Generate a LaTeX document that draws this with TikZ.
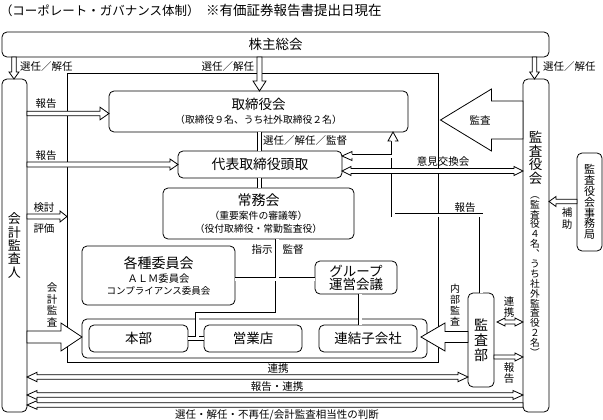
\documentclass[tikz,border=0pt]{standalone}
\usepackage{fontspec}
\setmainfont{Noto Sans CJK JP}
\usetikzlibrary{calc}
\newcommand\fs[2]{\fontsize{#1}{#2}\selectfont}
\tikzset{
  every node/.style={inner sep=0pt, outer sep=0pt},
  ln/.style={line width=0.8pt},
  box/.style={draw, ln, rounded corners=5pt, fill=white, align=center},
  lbl/.style={font=\fs{10.5}{11}, align=center},
  vlbl/.style={font=\fs{10.5}{11.5}, align=center},
  dbl/.style={ln, double=white, double distance=3pt},
  hol/.style={draw, ln, fill=white, line join=miter},
  harrow/.style n args={3}{to path={
      ($(\tikztotarget)!#3!(\tikztostart)$) coordinate (hb)
      ($(\tikztostart)!#1!90:(\tikztotarget)$) -- ($(hb)!#1!90:(\tikztotarget)$)
      -- ($(hb)!#2!90:(\tikztotarget)$) -- (\tikztotarget)
      -- ($(hb)!#2!-90:(\tikztotarget)$) -- ($(hb)!#1!-90:(\tikztotarget)$)
      -- ($(\tikztostart)!#1!-90:(\tikztotarget)$) -- cycle}},
  darrow/.style n args={3}{to path={
      ($(\tikztotarget)!#3!(\tikztostart)$) coordinate (hb)
      ($(\tikztostart)!#3!(\tikztotarget)$) coordinate (ha)
      (\tikztostart) -- ($(ha)!#2!90:(\tikztotarget)$) -- ($(ha)!#1!90:(\tikztotarget)$)
      -- ($(hb)!#1!90:(\tikztotarget)$) -- ($(hb)!#2!90:(\tikztotarget)$) -- (\tikztotarget)
      -- ($(hb)!#2!-90:(\tikztotarget)$) -- ($(hb)!#1!-90:(\tikztotarget)$)
      -- ($(ha)!#1!-90:(\tikztotarget)$) -- ($(ha)!#2!-90:(\tikztotarget)$) -- cycle}},
  ahead/.style n args={2}{to path={
      ($(\tikztostart)!#1!90:(\tikztotarget)$) -- ($(\tikztostart)!#2!90:(\tikztotarget)$)
      -- (\tikztotarget) -- ($(\tikztostart)!#2!-90:(\tikztotarget)$)
      -- ($(\tikztostart)!#1!-90:(\tikztotarget)$)}},
}
\begin{document}
\begin{tikzpicture}[x=1pt, y=-1pt]
\useasboundingbox (0,0) rectangle (603,420);
\fill[white] (0,0) rectangle (603,420);

% title
\node[anchor=west, font=\fs{12.5}{13}] (t1) at (0,10.5) {（コーポレート・ガバナンス体制）};
\node[anchor=west, font=\fs{13.5}{14}] (t2) at (206,10.5) {※有価証券報告書提出日現在};

% frame
\node[draw, ln, minimum width=371pt, minimum height=289pt] (waku) at (252.5,217.5) {};

% boxes
\node[box, minimum width=547pt, minimum height=25pt, font=\fs{13.5}{14}] (kabu) at (275.5,44.5) {株主総会};
\node[box, minimum width=25pt, minimum height=333pt, font=\fs{13}{13.3}] (kaikei) at (14.5,245.5) {会\\計\\監\\査\\人};
\node[box, minimum width=26pt, minimum height=333pt] (kansayaku) at (536,245.5) {};
\node[font=\fs{13.5}{13.8}, align=center] (kyt) at (535.5,158) {監\\査\\役\\会};
\node[font=\fs{9.7}{9.9}, align=center] (kys) at (535,276.5) {︵\\監\\査\\役\\４\\名\\︑\\う\\ち\\社\\外\\監\\査\\役\\２\\名\\︶};
\node[box, minimum width=25pt, minimum height=98pt, font=\fs{11}{10.9}] (jimu) at (589.5,202) {監\\査\\役\\会\\事\\務\\局};
\node[box, minimum width=299pt, minimum height=41pt, font=\fs{9.8}{14}] (torishimari) at (258.5,111.5)
  {{\fs{13.5}{14}取締役会}\\（取締役９名、うち社外取締役２名）};
\node[box, minimum width=164pt, minimum height=27pt, font=\fs{13.8}{14}] (daihyo) at (260,164.5) {代表取締役頭取};
\node[box, minimum width=191pt, minimum height=51pt, font=\fs{9.8}{13}] (jomu) at (258.5,213.5)
  {{\fs{14}{14}常務会}\\[1pt]（重要案件の審議等）\\（役付取締役・常勤監査役）};
\node[box, minimum width=153pt, minimum height=59pt, font=\fs{9.5}{12}] (kakushu) at (158.5,275.5)
  {{\fs{14}{14}各種委員会}\\[2pt]{\fs{10.3}{12}ＡＬＭ委員会}\\コンプライアンス委員会};
\node[box, minimum width=82pt, minimum height=33pt, font=\fs{13.5}{13}] (group) at (356,277.5) {グループ\\運営会議};
\node[box, minimum width=345pt, minimum height=39pt] (inner) at (254.5,338.5) {};
\node[box, minimum width=99pt, minimum height=27pt, font=\fs{13.5}{14}] (honbu) at (138.5,338.5) {本部};
\node[box, minimum width=98pt, minimum height=27pt, font=\fs{13.5}{14}] (eigyo) at (253,338.5) {営業店};
\node[box, minimum width=98pt, minimum height=27pt, font=\fs{13.5}{14}] (renketsu) at (368,338.5) {連結子会社};
\node[box, minimum width=26pt, minimum height=94pt, font=\fs{14}{15}] (kansabu) at (481,340) {監\\査\\部};

% double-line connectors
\coordinate (j1) at (jomu.south -| 277,0);
\coordinate (j2) at (277,314);
\coordinate (j3) at (197,314);
\coordinate (j4) at (honbu.east -| 197,0);
\draw[dbl] (daihyo.north -| 259.5,0) -- (torishimari.south -| 259.5,0)
           (daihyo.south -| 259.5,0) -- (jomu.north -| 259.5,0)
           (j1) -- (j2) -- (j3) -- (j4)
           (honbu.east) -- (eigyo.west)
           (kakushu.east |- 0,279) -- (group.west |- 0,279)
           (group.south -| 360,0) -- (renketsu.north -| 360,0);

% audit dept report route
\coordinate (r1) at (kansabu.north |- 0,215);
\coordinate (r2) at (393,215);
\coordinate (r3) at (393,141);
\coordinate (r4) at (393,156);
\coordinate (r5) at (352,156);
\draw[dbl] (kansabu.north) -- (r1) -- (r2) -- (r3) (r4) -- (r5);
\draw[hol] (r3) to[ahead={1.9pt}{5pt}] (torishimari.south -| r3);
\draw[hol] (r5) to[ahead={1.9pt}{4.5pt}] (daihyo.east |- r5);

% hollow arrows
\coordinate (s1a) at (kabu.south -| 14,0);    \coordinate (s1b) at (kaikei.north -| 14,0);
\coordinate (s2a) at (kabu.south -| 259.5,0); \coordinate (s2b) at (torishimari.north -| 259.5,0);
\coordinate (s3a) at (kabu.south -| 534.5,0); \coordinate (s3b) at (kansayaku.north -| 534.5,0);
\draw[hol] (s1a) to[harrow={2.2pt}{5pt}{7pt}] (s1b);
\draw[hol] (s2a) to[harrow={2.5pt}{6.5pt}{10pt}] (s2b);
\draw[hol] (s3a) to[harrow={2.3pt}{4.8pt}{7pt}] (s3b);

\coordinate (h1a) at (kaikei.east |- 0,113.5); \coordinate (h1b) at (torishimari.west |- 0,113.5);
\coordinate (h2a) at (kaikei.east |- 0,164.5); \coordinate (h2b) at (daihyo.west |- 0,164.5);
\coordinate (k1a) at (kaikei.east |- 0,216.5); \coordinate (k1b) at (waku.west |- 0,216.5);
\coordinate (k2a) at (kaikei.east |- 0,337);   \coordinate (k2b) at (inner.west |- 0,337);
\draw[hol] (h1a) to[harrow={2.3pt}{6.3pt}{9pt}] (h1b);
\draw[hol] (h2a) to[harrow={2.5pt}{5.5pt}{8pt}] (h2b);
\draw[hol] (k1a) to[harrow={2.5pt}{5.5pt}{7pt}] (k1b);
\draw[hol] (k2a) to[harrow={6pt}{14pt}{21pt}] (k2b);

\coordinate (m1a) at (kansayaku.west |- 0,120); \coordinate (m1b) at ($(waku.east |- 0,120)+(2.5,0)$);
\draw[hol] (m1a) to[harrow={19pt}{31pt}{51pt}] (m1b);

\coordinate (ik1) at (daihyo.east |- 0,171); \coordinate (ik2) at (kansayaku.west |- 0,171);
\draw[hol] (ik1) to[darrow={2.5pt}{4.5pt}{9pt}] (ik2);

\coordinate (hj1) at (jimu.west |- 0,201.5); \coordinate (hj2) at (kansayaku.east |- 0,201.5);
\draw[hol] (hj1) to[harrow={2.3pt}{5pt}{7pt}] (hj2);

\coordinate (nb1) at (kansabu.west |- 0,337); \coordinate (nb2) at ($(renketsu.east |- 0,337)+(4,0)$);
\draw[hol] (nb1) to[harrow={5.5pt}{14pt}{24pt}] (nb2);

\coordinate (rk1) at ($(kansabu.east |- 0,322)+(3,0)$); \coordinate (rk2) at (kansayaku.west |- 0,322);
\draw[hol] (rk1) to[darrow={2pt}{4pt}{8pt}] (rk2);
\coordinate (hk1) at (kansabu.east |- 0,357); \coordinate (hk2) at (kansayaku.west |- 0,357);
\draw[hol] (hk1) to[harrow={2pt}{4pt}{8pt}] (hk2);

\coordinate (b1a) at (kaikei.east |- 0,377); \coordinate (b1b) at (kansabu.west |- 0,377);
\coordinate (b2a) at (kaikei.east |- 0,395); \coordinate (b2b) at (kansayaku.west |- 0,395);
\coordinate (b3a) at (kansayaku.west |- 0,405); \coordinate (b3b) at (kaikei.east |- 0,405);
\draw[hol] (b1a) to[darrow={2.2pt}{4.7pt}{10pt}] (b1b);
\draw[hol] (b2a) to[darrow={2.2pt}{4.5pt}{10pt}] (b2b);
\draw[hol] (b3a) to[harrow={2.2pt}{4.3pt}{10pt}] (b3b);

% labels
\node[lbl, anchor=west] (l_s1) at (20,66.5) {選任／解任};
\node[lbl, anchor=east] (l_s2) at (254,66.5) {選任／解任};
\node[lbl, anchor=west] (l_s3) at (543,66.5) {選任／解任};
\node[lbl] (l_h1) at (46,103.5) {報告};
\node[lbl] (l_h2) at (46,156) {報告};
\node[lbl] (l_k1) at (44,208) {検討};
\node[lbl] (l_k2) at (44,229) {評価};
\node[vlbl, font=\fs{10.5}{11.8}] (l_kk) at (52,305) {会\\計\\監\\査};
\node[lbl, anchor=west] (l_sk) at (263,141) {選任／解任／監督};
\node[lbl] (l_ik) at (443,162) {意見交換会};
\node[lbl] (l_h3) at (465,208) {報告};
\node[lbl] (l_ks) at (480,120) {監査};
\node[lbl] (l_sj) at (262,250) {指示};
\node[lbl] (l_kt) at (293,250) {監督};
\node[vlbl, font=\fs{10}{11}] (l_nb) at (455,305.5) {内\\部\\監\\査};
\node[vlbl] (l_rk) at (509,307) {連\\携};
\node[vlbl] (l_h4) at (509,373) {報\\告};
\node[vlbl] (l_hj) at (567,218.5) {補\\助};
\node[lbl] (l_b1) at (278,369) {連携};
\node[lbl] (l_b2) at (277,387) {報告・連携};
\node[lbl] (l_b3) at (277,415.5) {選任・解任・不再任/会計監査相当性の判断};
\end{tikzpicture}
\end{document}
